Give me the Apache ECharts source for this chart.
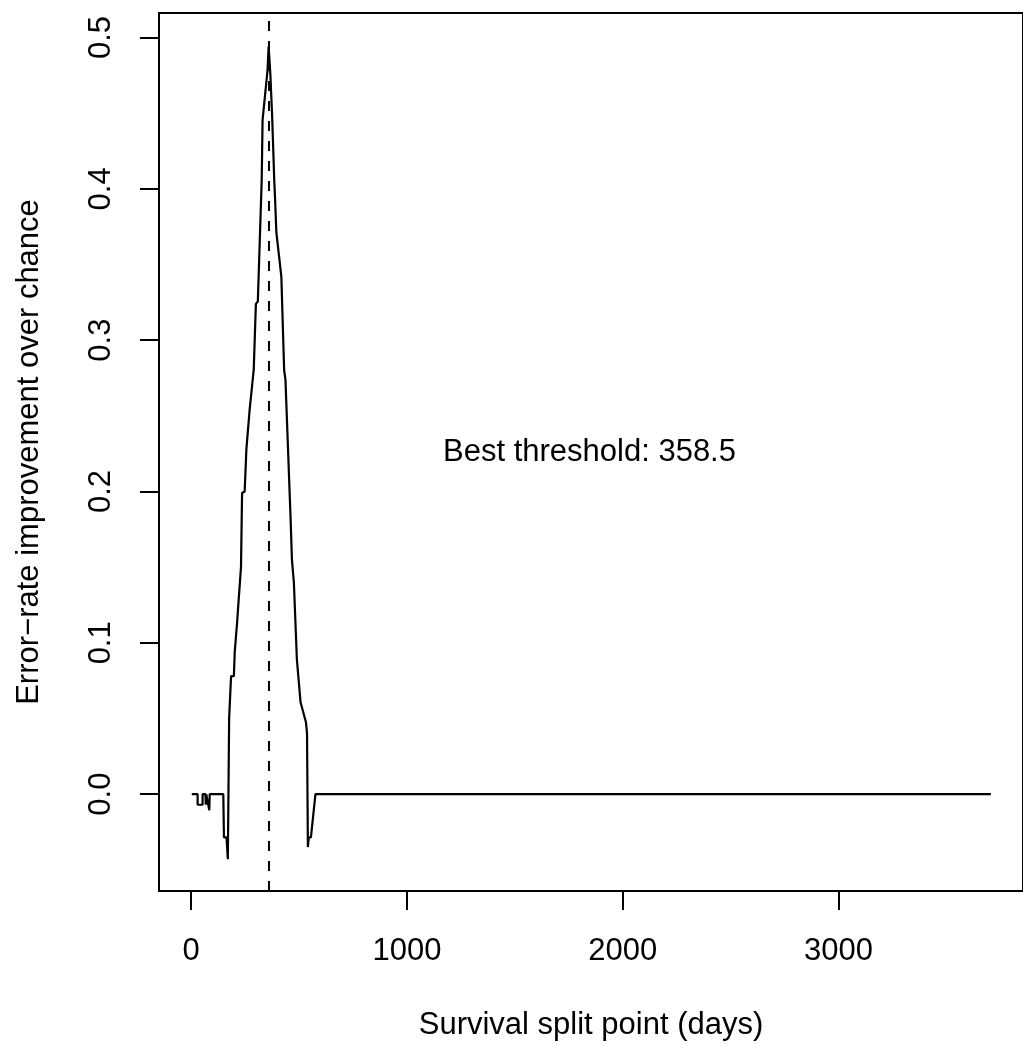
<!DOCTYPE html>
<html>
<head>
<meta charset="utf-8">
<script src="https://cdn.jsdelivr.net/npm/echarts@6/dist/echarts.min.js"></script>
<style>
  html, body { margin: 0; padding: 0; background: #fff; }
  #main { width: 1023px; height: 1046px; }
</style>
</head>
<body>
<div id="main"></div>
<script>
// split point (days) and error-rate improvement
var splitDays = [3, 30, 30, 53, 53, 66, 68, 70, 72, 84, 86, 149, 152, 164, 170, 176, 185, 198,
  202, 213, 220, 231, 236, 248, 256, 271, 290, 300, 309, 327, 331, 354, 359, 367, 376, 385,
  389, 395, 418, 431, 437, 461, 467, 476, 490, 498, 507, 532, 537, 541, 545, 555, 576, 3706];
var improvement = [0, 0, -0.007, -0.007, 0, 0, -0.007, 0, 0, -0.0106, 0, 0, -0.0286, -0.0286, -0.043, 0.050, 0.078, 0.078,
  0.094, 0.1135, 0.128, 0.150, 0.199, 0.200, 0.228, 0.254, 0.2805, 0.324, 0.3255, 0.406, 0.4455, 0.4785, 0.494, 0.476, 0.4455, 0.406,
  0.393, 0.371, 0.342, 0.280, 0.274, 0.1815, 0.155, 0.140, 0.089, 0.089, 0.0607, 0.0475, 0.040, -0.035, -0.0286, -0.0286, 0, 0];

var bestThreshold = 358.5;
var xTicks = [0, 1000, 2000, 3000];
var yTicks = [0, 0.1, 0.2, 0.3, 0.4, 0.5];
var notePos = [1846, 0.226];

var font = '"Liberation Sans", Arial, Helvetica, sans-serif';
var fs = 31;

var chart = echarts.init(document.getElementById('main'));

var option = {
  animation: false,
  backgroundColor: '#fff',
  grid: {
    left: 159, top: 13, width: 877, height: 879,
    show: true, borderColor: '#000', borderWidth: 2, backgroundColor: 'transparent'
  },
  xAxis: {
    type: 'value',
    min: -149, max: 3855,
    name: 'Survival split point (days)',
    nameLocation: 'middle',
    nameGap: 119,
    nameTextStyle: { fontSize: fs, color: '#000', fontFamily: font },
    axisLine: { show: false, onZero: false },
    axisTick: { show: true, inside: false, customValues: xTicks, length: 19, lineStyle: { color: '#000', width: 2 } },
    axisLabel: {
      customValues: xTicks, margin: 45, fontSize: fs, color: '#000', fontFamily: font,
      formatter: function (v) { return String(v); }
    },
    splitLine: { show: false }
  },
  yAxis: {
    type: 'value',
    min: -0.064, max: 0.5162,
    name: 'Error\u2212rate improvement over chance',
    nameLocation: 'middle',
    nameGap: 114,
    nameTextStyle: { fontSize: fs, color: '#000', fontFamily: font },
    axisLine: { show: false, onZero: false },
    axisTick: { show: true, inside: false, customValues: yTicks, length: 19, lineStyle: { color: '#000', width: 2 } },
    axisLabel: {
      customValues: yTicks, rotate: 90, margin: 42, fontSize: fs, color: '#000', fontFamily: font,
      formatter: function (v) { return v.toFixed(1); }
    },
    splitLine: { show: false }
  },
  series: [
    {
      type: 'line',
      data: splitDays.map(function (d, i) { return [d, improvement[i]]; }),
      showSymbol: false,
      lineStyle: { color: '#000', width: 2.2 },
      markLine: {
        silent: true,
        symbol: 'none',
        label: { show: false },
        lineStyle: { color: '#000', width: 2, type: [10, 10] },
        data: [{ xAxis: bestThreshold }]
      }
    },
    {
      type: 'scatter',
      data: [notePos],
      symbolSize: 0,
      itemStyle: { opacity: 1 },
      label: {
        show: true, position: 'inside', opacity: 1,
        formatter: 'Best threshold: ' + bestThreshold,
        fontSize: fs, color: '#000', fontFamily: font
      }
    }
  ]
};

chart.setOption(option);
</script>
</body>
</html>
